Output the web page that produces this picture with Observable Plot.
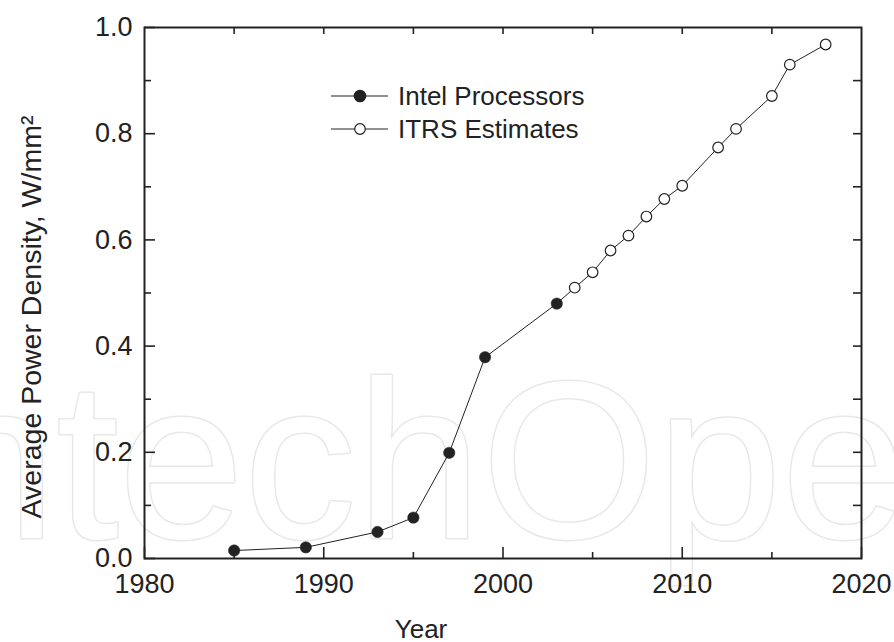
<!DOCTYPE html>
<html>
<head>
<meta charset="utf-8">
<script src="https://cdn.jsdelivr.net/npm/d3@7"></script>
<script src="https://cdn.jsdelivr.net/npm/@observablehq/plot@0.6"></script>
<style>
  html, body { margin: 0; padding: 0; background: #fff; }
  #chart { width: 894px; height: 642px; }
</style>
</head>
<body>
<div id="chart"></div>
<script>
// Measured average power density of Intel processors
const intelYears = [1985, 1989, 1993, 1995, 1997, 1999, 2003];
const intelDensity = [0.015, 0.021, 0.050, 0.077, 0.199, 0.379, 0.480];

// ITRS roadmap estimates
const itrsYears = [2004, 2005, 2006, 2007, 2008, 2009, 2010, 2012, 2013, 2015, 2016, 2018];
const itrsDensity = [0.510, 0.539, 0.580, 0.608, 0.644, 0.677, 0.702, 0.774, 0.809, 0.871, 0.930, 0.968];

// Axis ticks
const xTickLabels = [1980, 1990, 2000, 2010, 2020];
const xMinorTicks = [1985, 1995, 2005, 2015];
const xTopTicks = [1985, 1990, 1995, 2000, 2005, 2010, 2015];
const yTickLabels = [0.0, 0.2, 0.4, 0.6, 0.8, 1.0];
const yMinorTicks = [0.1, 0.3, 0.5, 0.7, 0.9];
const yRightTicks = [0.1, 0.2, 0.3, 0.4, 0.5, 0.6, 0.7, 0.8, 0.9];

const seriesNames = ["Intel Processors", "ITRS Estimates"];
const xTitle = "Year";
const yTitle = "Average Power Density, W/mm\u00B2";
const watermark = "IntechOpen";

const intel = intelYears.map((year, i) => ({year, density: intelDensity[i], series: seriesNames[0]}));
const itrs = itrsYears.map((year, i) => ({year, density: itrsDensity[i], series: seriesNames[1]}));
const all = intel.concat(itrs);

const W = 894, H = 642;
const margin = {top: 27, right: 33, bottom: 84, left: 144};
const innerW = W - margin.left - margin.right;
const innerH = H - margin.top - margin.bottom;
const ink = "#222";
const font = "'Liberation Sans', Arial, Helvetica, sans-serif";

const chart = Plot.plot({
  width: W,
  height: H,
  marginTop: margin.top,
  marginRight: margin.right,
  marginBottom: margin.bottom,
  marginLeft: margin.left,
  x: {domain: [1980, 2020]},
  y: {domain: [0, 1]},
  style: {fontFamily: font, fontSize: "26px", color: ink, background: "#fff", overflow: "visible"},
  marks: [
    // faint outlined publisher mark behind the plot
    Plot.text([watermark], {
      frameAnchor: "bottom-left", dx: -276, dy: -21, lineAnchor: "bottom", textAnchor: "start",
      fontSize: 225, fontWeight: 300, fill: "#fff", stroke: "#e8e8e8", strokeWidth: 3
    }),
    // data: one continuous polyline through both series
    Plot.line(all, {x: "year", y: "density", stroke: ink, strokeWidth: 1}),
    Plot.dot(intel, {x: "year", y: "density", r: 5.7, fill: ink, stroke: ink, strokeWidth: 0.5}),
    Plot.dot(itrs, {x: "year", y: "density", r: 5.3, fill: "#fff", stroke: ink, strokeWidth: 1.2}),
    // frame
    Plot.frame({stroke: ink, strokeWidth: 2}),
    // inward ticks
    Plot.ruleX(xTickLabels, {x: d => d, insetTop: innerH - 11, stroke: ink, strokeWidth: 1.6}),
    Plot.ruleX(xMinorTicks, {x: d => d, insetTop: innerH - 6, stroke: ink, strokeWidth: 1.6}),
    Plot.ruleX(xTopTicks, {x: d => d, insetBottom: innerH - 7, stroke: ink, strokeWidth: 1.6}),
    Plot.ruleY(yTickLabels, {y: d => d, insetRight: innerW - 11, stroke: ink, strokeWidth: 1.6}),
    Plot.ruleY(yMinorTicks, {y: d => d, insetRight: innerW - 7, stroke: ink, strokeWidth: 1.6}),
    Plot.ruleY(yRightTicks, {y: d => d, insetLeft: innerW - 8, stroke: ink, strokeWidth: 1.6}),
    // tick labels
    Plot.axisX(xTickLabels, {anchor: "bottom", tickSize: 0, tickPadding: 15, tickFormat: d => String(d), fontSize: 27, label: null}),
    Plot.axisY(yTickLabels, {anchor: "left", tickSize: 0, tickPadding: 12, tickFormat: d3.format(".1f"), fontSize: 27, label: null}),
    // axis titles
    Plot.text([xTitle], {frameAnchor: "bottom", dx: -82, dy: 71, lineAnchor: "middle", fontSize: 26, fill: ink}),
    Plot.text([yTitle], {frameAnchor: "left", dx: -113, dy: 24, rotate: -90, lineAnchor: "middle", textAnchor: "middle", fontSize: 28.5, fill: ink})
  ]
});

// legend: line–marker–line swatch followed by the series name
const svg = d3.select(chart);
const legend = svg.append("g")
  .attr("font-family", font).attr("font-size", 26).attr("fill", ink).attr("text-anchor", "start");
const rows = [
  {name: seriesNames[0], cy: 96, fill: ink, r: 5.7},
  {name: seriesNames[1], cy: 129, fill: "#fff", r: 5.3}
];
rows.forEach(row => {
  legend.append("line").attr("x1", 331).attr("x2", 388).attr("y1", row.cy).attr("y2", row.cy)
    .attr("stroke", ink).attr("stroke-width", 1);
  legend.append("circle").attr("cx", 360).attr("cy", row.cy).attr("r", row.r)
    .attr("fill", row.fill).attr("stroke", ink).attr("stroke-width", 1.2);
  legend.append("text").attr("x", 398).attr("y", row.cy + 9).attr("text-anchor", "start").text(row.name);
});

document.getElementById("chart").appendChild(chart);
</script>
</body>
</html>
